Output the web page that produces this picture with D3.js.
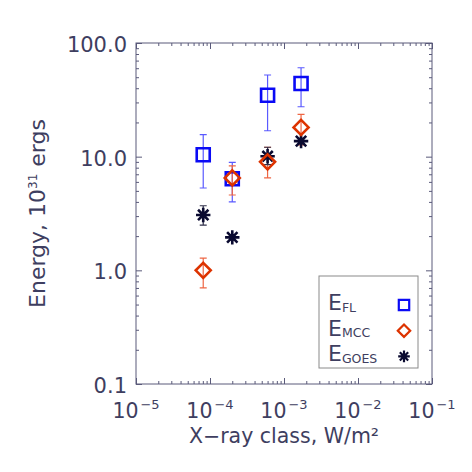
<!DOCTYPE html>
<html>
<head>
<meta charset="utf-8">
<script src="https://cdn.jsdelivr.net/npm/d3@7"></script>
<style>
  body { margin: 0; background: #fff; }
  text { font-family: "DejaVu Sans", sans-serif; fill: #3e3e60; }
</style>
</head>
<body>
<div id="chart"></div>
<script>
// data
var xClass = [8.1e-5, 2.0e-4, 6.0e-4, 1.7e-3];

var eFL   = [10.4, 6.4, 34.7, 44.0];
var eFLLo = [5.3, 4.0, 16.9, 27.5];
var eFLHi = [15.6, 8.9, 52.3, 60.6];

var eMCC   = [1.0, 6.5, 9.0, 18.1];
var eMCCLo = [0.70, 4.6, 6.5, 12.7];
var eMCCHi = [1.28, 8.3, 12.1, 23.6];

var eGOES   = [3.07, 1.95, 10.1, 13.7];
var eGOESLo = [2.5, 1.85, 8.5, 13.0];
var eGOESHi = [3.7, 2.05, 12.1, 14.5];

var xTicks = [1e-5, 1e-4, 1e-3, 1e-2, 1e-1];
var xTickExp = ["\u22125", "\u22124", "\u22123", "\u22122", "\u22121"];
var yTicks = [0.1, 1, 10, 100];
var yTickLabels = ["0.1", "1.0", "10.0", "100.0"];

var svgWidth = 472;
var svgHeight = 472;
var margin = { top: 43, right: 40, bottom: 88, left: 136 };
var width = svgWidth - margin.left - margin.right;
var height = svgHeight - margin.top - margin.bottom;

var axisColor = "#5a5a7a";
var blue = "#0a0af5", blueBar = "#5a5aff";
var red = "#dd3300", redBar = "#ee6644";
var navy = "#0a0a30", navyBar = "#30304a";

var svg = d3.select("#chart")
  .append("svg")
  .attr("width", svgWidth)
  .attr("height", svgHeight);

var chartGroup = svg.append("g")
  .attr("transform", `translate(${margin.left}, ${margin.top})`);

var xScale = d3.scaleLog().domain([1e-5, 1e-1]).range([0, width]);
var yScale = d3.scaleLog().domain([0.1, 100]).range([height, 0]);

// minor ticks 2..9 per decade
function minors(lo, hi) {
  var out = [];
  for (var d = lo; d < hi; d *= 10) {
    for (var k = 2; k <= 9; k++) out.push(d * k);
  }
  return out;
}
var xMinor = minors(1e-5, 1e-1);
var yMinor = minors(0.1, 100);

function drawAxis(axisFn, scale, values, size, transform) {
  var g = chartGroup.append("g")
    .attr("transform", transform)
    .call(axisFn(scale).tickValues(values).tickSize(-size).tickFormat(""));
  g.select(".domain").remove();
  g.selectAll("line").attr("stroke", axisColor);
  return g;
}

drawAxis(d3.axisBottom, xScale, xTicks, 6, `translate(0, ${height})`);
drawAxis(d3.axisBottom, xScale, xMinor, 3, `translate(0, ${height})`);
drawAxis(d3.axisTop, xScale, xTicks, 6, "translate(0, 0)");
drawAxis(d3.axisTop, xScale, xMinor, 3, "translate(0, 0)");
drawAxis(d3.axisLeft, yScale, yTicks, 6, "translate(0, 0)");
drawAxis(d3.axisLeft, yScale, yMinor, 3, "translate(0, 0)");
drawAxis(d3.axisRight, yScale, yTicks, 6, `translate(${width}, 0)`);
drawAxis(d3.axisRight, yScale, yMinor, 3, `translate(${width}, 0)`);

chartGroup.append("rect")
  .attr("width", width)
  .attr("height", height)
  .attr("fill", "none")
  .attr("stroke", axisColor)
  .attr("stroke-width", 1);

// tick labels
var xLab = chartGroup.selectAll(".xlab")
  .data(xTicks)
  .enter()
  .append("text")
  .attr("class", "xlab")
  .attr("x", d => xScale(d))
  .attr("y", height + 34)
  .attr("text-anchor", "middle")
  .style("font-size", "20.5px");
xLab.append("tspan").text("10");
xLab.append("tspan")
  .attr("dy", -9)
  .attr("dx", 2)
  .style("font-size", "13px")
  .text((d, i) => xTickExp[i]);

chartGroup.selectAll(".ylab")
  .data(yTicks)
  .enter()
  .append("text")
  .attr("class", "ylab")
  .attr("x", -9)
  .attr("y", d => yScale(d) + 9)
  .attr("text-anchor", "end")
  .style("font-size", "21px")
  .text((d, i) => yTickLabels[i]);

// axis titles
chartGroup.append("text")
  .attr("x", width / 2)
  .attr("y", height + 59)
  .attr("text-anchor", "middle")
  .style("font-size", "20.5px")
  .text("X\u2212ray class, W/m\u00b2");

var yTitle = chartGroup.append("text")
  .attr("transform", "rotate(-90)")
  .attr("x", -height / 2)
  .attr("y", 45 - margin.left)
  .attr("text-anchor", "middle")
  .style("font-size", "22px");
yTitle.append("tspan").text("Energy, 10");
yTitle.append("tspan").attr("dy", -8).style("font-size", "12px").text("31");
yTitle.append("tspan").attr("dy", 8).text(" ergs");

// marker shapes
function squarePath(s) {
  return `M${-s},${-s}H${s}V${s}H${-s}Z`;
}
function diamondPath(s) {
  return `M0,${-s}L${s},0L0,${s}L${-s},0Z`;
}
function starPath(s) {
  var a = s * 0.72;
  return `M${-s},0H${s}M0,${-s}V${s}M${-a},${-a}L${a},${a}M${-a},${a}L${a},${-a}`;
}

function errorBars(vals, lo, hi, color) {
  var g = chartGroup.append("g")
    .attr("stroke", color)
    .attr("stroke-width", 1.2)
    .attr("fill", "none");
  g.selectAll(".bar")
    .data(vals)
    .enter()
    .append("path")
    .attr("d", function(d, i) {
      var x = xScale(xClass[i]);
      var y1 = yScale(lo[i]), y2 = yScale(hi[i]);
      return `M${x},${y1}V${y2}M${x - 3.5},${y1}H${x + 3.5}M${x - 3.5},${y2}H${x + 3.5}`;
    });
}

function markers(vals, pathFn, color) {
  chartGroup.append("g")
    .selectAll("path")
    .data(vals)
    .enter()
    .append("path")
    .attr("transform", (d, i) => `translate(${xScale(xClass[i])}, ${yScale(d)})`)
    .attr("d", pathFn)
    .attr("fill", "none")
    .attr("stroke", color)
    .attr("stroke-width", 2.6);
}

errorBars(eFL, eFLLo, eFLHi, blueBar);
errorBars(eMCC, eMCCLo, eMCCHi, redBar);
errorBars(eGOES, eGOESLo, eGOESHi, navyBar);

markers(eFL, () => squarePath(6.5), blue);
markers(eGOES, () => starPath(7.2), navy);
markers(eMCC, () => diamondPath(7.5), red);

// legend
var legend = chartGroup.append("g")
  .attr("transform", `translate(${319 - margin.left}, ${276 - margin.top})`);

legend.append("rect")
  .attr("width", 99)
  .attr("height", 92)
  .attr("fill", "#fff")
  .attr("stroke", "#8a8a8a")
  .attr("stroke-width", 1);

var legendItems = [
  { sub: "FL", path: squarePath(5.2), color: blue },
  { sub: "MCC", path: diamondPath(6.2), color: red },
  { sub: "GOES", path: starPath(5.8), color: navy }
];

legendItems.forEach(function(item, i) {
  var t = legend.append("text")
    .attr("x", 9)
    .attr("y", 34 + i * 25.7)
    .style("font-size", "22px");
  t.append("tspan").text("E");
  t.append("tspan")
    .attr("dy", 1.5)
    .style("font-size", "12.5px")
    .text(item.sub);

  legend.append("path")
    .attr("transform", `translate(85, ${29 + i * 25.7})`)
    .attr("d", item.path)
    .attr("fill", "none")
    .attr("stroke", item.color)
    .attr("stroke-width", 2.2);
});
</script>
</body>
</html>
